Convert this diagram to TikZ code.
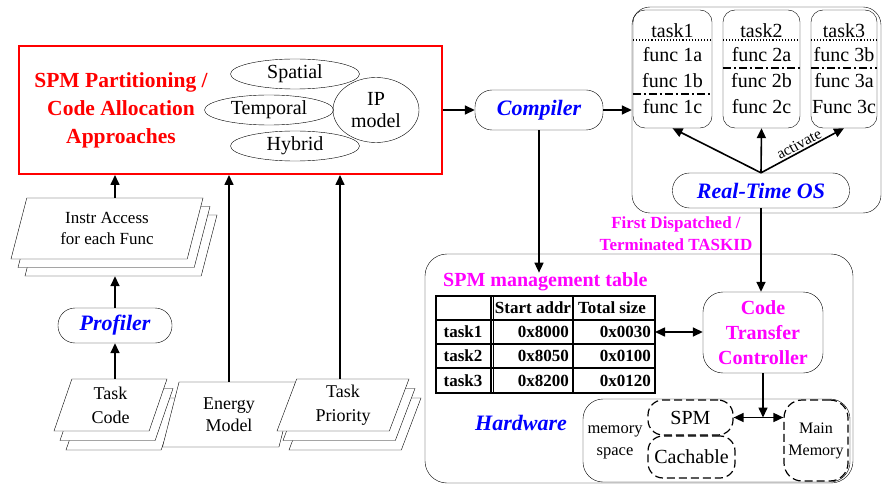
\documentclass[tikz,border=0pt]{standalone}
\usepackage{fontspec}
\setmainfont{Liberation Serif}
\usepackage{xcolor}
\usetikzlibrary{shapes.geometric, arrows.meta, positioning, shadows, calc}
\definecolor{tagpink}{RGB}{255,0,255}
\definecolor{toolblue}{RGB}{0,0,255}
\definecolor{hotred}{RGB}{255,0,0}
\newcommand{\fsz}[2]{\fontsize{#1}{#2}\selectfont}
\tikzset{
    arrow/.style={line width=1.6pt, -{Triangle[length=10pt,width=9pt]}},
    dblarrow/.style={line width=1.6pt, {Triangle[length=10pt,width=9pt]}-{Triangle[length=10pt,width=9pt]}},
    approach/.style={ellipse, draw, inner sep=0pt, minimum width=129pt, minimum height=30pt, font=\fsz{20}{22}},
    toolbox/.style={rectangle, draw, rounded corners=17pt, inner sep=0pt, text=toolblue, font=\fsz{22}{24}\bfseries\itshape},
    datastack/.style={trapezium, draw, fill=white, trapezium left angle=64, trapezium right angle=116,
        trapezium stretches body, inner sep=0pt, align=center, font=\fsz{17}{21}},
    taskbox/.style={rectangle, draw, rounded corners=12pt, minimum width=79pt, minimum height=118pt},
    region/.style={rectangle, draw, rounded corners=18pt},
    memdash/.style={rectangle, draw, line width=1.2pt, dash pattern=on 8pt off 4pt, rounded corners=15pt},
    func/.style={font=\fsz{20}{22}, inner sep=0pt},
    splitline/.style={line width=1.2pt, dash pattern=on 8pt off 3pt on 2pt off 3pt},
    magtext/.style={text=tagpink, font=\fsz{20}{25}\bfseries, align=center},
    cell/.style={inner sep=0pt, font=\fsz{17}{18}\bfseries}
}
\begin{document}
\begin{tikzpicture}[x=1pt, y=-1pt]
\useasboundingbox (0,0) rectangle (884,484);

% partitioning approaches
\node (approach) [rectangle, draw=hotred, line width=2pt, minimum width=423pt, minimum height=128pt] at (230.5,110) {};
\node (apptitle) [text=hotred, font=\fsz{21.5}{28}\bfseries, align=center] at (121,110) {SPM Partitioning /\\Code Allocation\\Approaches};
\node (spatial) [approach] at (295,74) {Spatial};
\node (temporal) [approach] at (269,110) {Temporal};
\node (hybrid) [approach] at (295,146) {Hybrid};
\node (ipmodel) [approach, minimum width=86pt, minimum height=65pt, align=center] at (376,110) {IP\\model};

% inputs
\node (instr) [datastack, minimum width=192pt, minimum height=61pt, double copy shadow={shadow xshift=7pt, shadow yshift=-8.5pt}] at (107,228.5) {Instr Access\\for each Func};
\node (prof) [toolbox, minimum width=114pt, minimum height=35pt] at (115,325.5) {Profiler};
\node (tcode) [datastack, minimum width=113pt, minimum height=52pt, font=\fsz{18}{24}, double copy shadow={shadow xshift=6pt, shadow yshift=-9.5pt}] at (110.5,405) {Task\\Code};
\node (energy) [datastack, minimum width=133pt, minimum height=65pt, font=\fsz{18}{22}] at (229,414.5) {Energy\\Model};
\node (tprio) [datastack, minimum width=132pt, minimum height=52pt, font=\fsz{18}{24}, double copy shadow={shadow xshift=6pt, shadow yshift=-9.5pt}] at (343,405) {Task\\Priority};

\draw [arrow] (tcode.north -| prof.south) -- (prof.south);
\draw [arrow] (prof.north) -- ([yshift=-17pt]instr.south -| prof.north);
\draw [arrow] (instr.north -| prof.north) -- (prof.north |- approach.south);
\draw [arrow] (energy.north -| energy.center) -- (energy.center |- approach.south);
\draw [arrow] ([xshift=-3pt]tprio.north) -- ([xshift=-3pt]tprio.north |- approach.south);

% compiler and task set
\node (comp) [toolbox, minimum width=128pt, minimum height=40pt] at (539,110) {Compiler};
\node (osarea) [region, minimum width=249pt, minimum height=206pt] at (756.5,110) {};
\node (t1) [taskbox] at (672.5,69) {};
\node (t2) [taskbox, minimum width=77pt] at (761.5,69) {};
\node (t3) [taskbox, minimum width=66pt] at (844,69) {};
\foreach \t/\x in {1/672.5, 2/761.5, 3/844} {
    \node (head\t) [func] at (\x,31) {task\t};
    \draw [dotted, line width=1.1pt] (t\t.west |- 0,40) -- (t\t.east |- 0,40);
}
\node (f1a) [func] at (672.5,55) {func 1a};
\node (f1b) [func] at (672.5,81) {func 1b};
\node (f1c) [func] at (672.5,107) {func 1c};
\node (f2a) [func] at (761.5,55) {func 2a};
\node (f2b) [func] at (761.5,81) {func 2b};
\node (f2c) [func] at (761.5,107) {func 2c};
\node (f3b) [func] at (844,55) {func 3b};
\node (f3a) [func] at (844,81) {func 3a};
\node (f3c) [func] at (844,107) {Func 3c};
\draw [splitline] (t1.west |- 0,94) -- (t1.east |- 0,94);
\draw [splitline] (t2.west |- 0,68) -- (t2.east |- 0,68);
\draw [splitline] (t3.west |- 0,68) -- (t3.east |- 0,68);

\node (rtos) [toolbox, minimum width=177pt, minimum height=35pt] at (761,190.5) {Real-Time OS};
\draw [arrow] (rtos.north) -- (t1.south);
\draw [arrow] (rtos.north) -- (t2.south);
\draw [arrow] (rtos.north) -- node[sloped, above, pos=0.5, inner sep=1.5pt, font=\fsz{15.5}{16}] {activate} (t3.south);

\draw [arrow] (approach.east) -- (comp.west);
\draw [arrow] (comp.east) -- (osarea.west |- comp.east);

% hardware side
\node (hw) [region, rounded corners=22pt, minimum width=428pt, minimum height=229pt] at (639,368.5) {};
\node (dispatch) [magtext, font=\fsz{17}{22}\bfseries] at (676,234) {First Dispatched /\\Terminated TASKID};
\node (mtitle) [magtext, anchor=west, inner sep=0pt] at (443,282) {SPM management table};
\node (ctc) [region, rounded corners=20pt, minimum width=120pt, minimum height=81pt, magtext] at (763,332.5) {Code\\Transfer\\Controller};

% management table
\draw [line width=1.3pt] (436,296) rectangle (655,393);
\foreach \y in {320,344,368}
    \draw [line width=1.3pt] (436,\y) -- (655,\y);
\foreach \x in {491,493.5,573}
    \draw [line width=1.3pt] (\x,296) -- (\x,393);
\node (hdaddr) [cell] at (533,308) {Start addr};
\node (hdsize) [cell] at (612,308) {Total size};
\foreach \r/\y/\a/\s in {1/332/0x8000/0x0030, 2/356/0x8050/0x0100, 3/380.5/0x8200/0x0120} {
    \node (task\r) [cell] at (463,\y) {task\r};
    \node (addr\r) [cell, anchor=east] at (569,\y) {\a};
    \node (size\r) [cell, anchor=east] at (651,\y) {\s};
}
\coordinate (tblright) at (655,332);

\draw [arrow] (comp.south) -- (comp.south |- mtitle.north);
\draw [arrow] (rtos.south) -- (rtos.south |- ctc.north);
\draw [dblarrow] (tblright) -- (ctc.west |- tblright);

\node (hwlabel) [text=toolblue, font=\fsz{22}{24}\bfseries\itshape] at (521,423) {Hardware};
\node (memsp) [region, rounded corners=20pt, minimum width=267pt, minimum height=83pt] at (716.5,440.5) {};
\node (memtext) [align=center, font=\fsz{16.5}{22}] at (615,442) {memory\\space};
\node (spm) [memdash, minimum width=85pt, minimum height=35pt, font=\fsz{20}{22}] at (690.5,417.5) {SPM};
\node (cache) [memdash, minimum width=87pt, minimum height=42pt, font=\fsz{20}{22}] at (691.5,457) {Cachable};
\node (mainmem) [memdash, rounded corners=18pt, minimum width=64pt, minimum height=81pt, align=center, font=\fsz{16}{22}] at (816,440.5) {Main\\Memory};
\draw [dblarrow] (spm.east) -- (mainmem.west |- spm.east);
\draw [arrow] (ctc.south) -- (ctc.south |- spm.east);
\end{tikzpicture}
\end{document}
